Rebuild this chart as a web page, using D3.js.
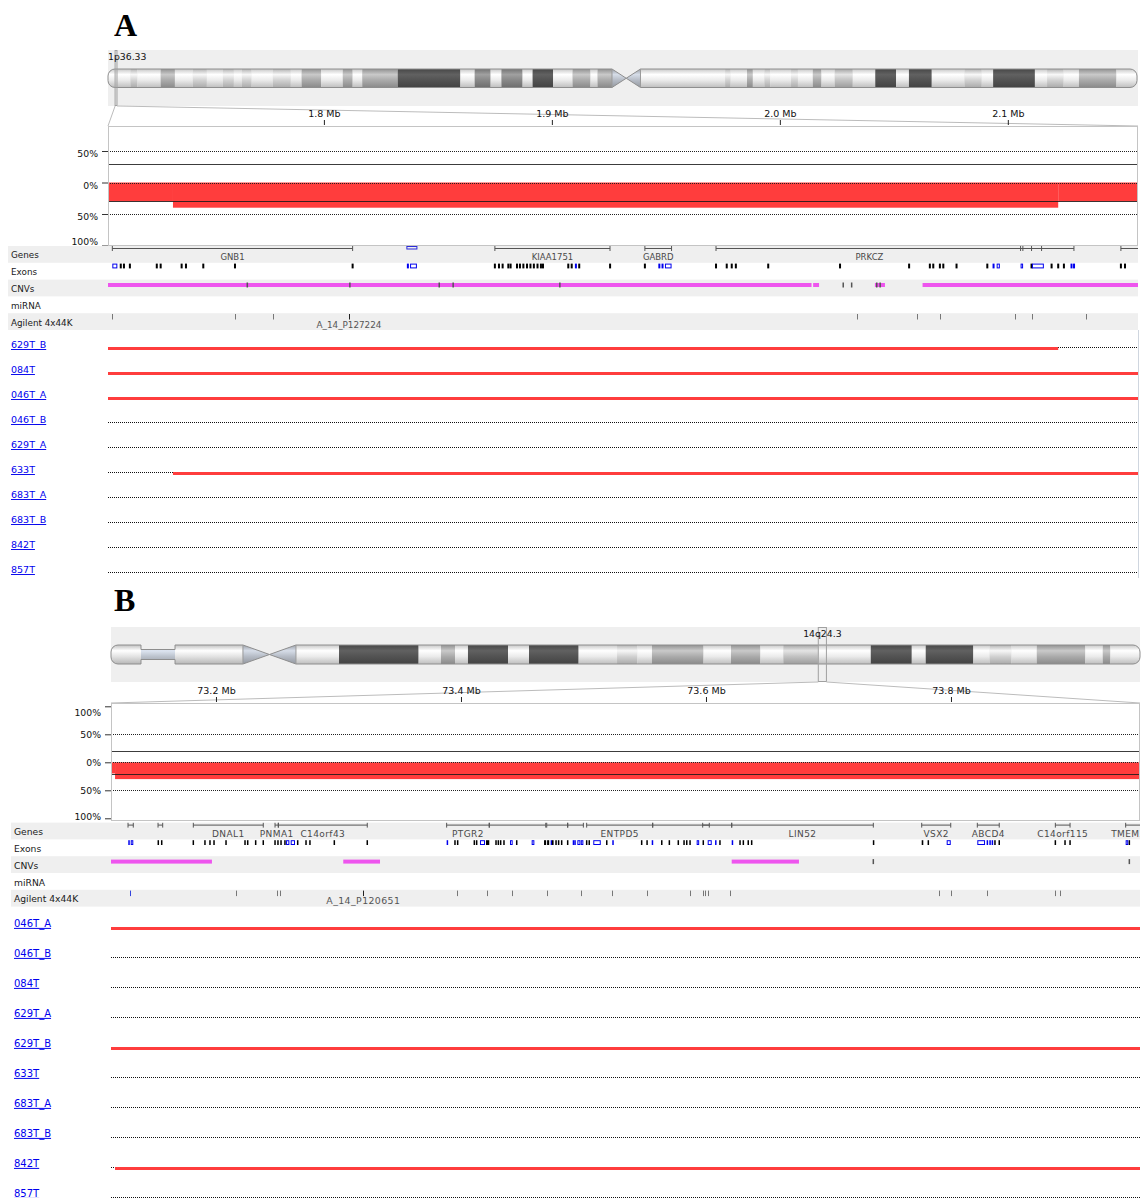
<!DOCTYPE html>
<html>
<head>
<meta charset="utf-8">
<title>Copy-number losses at 1p36.33 and 14q24.3</title>
<script src="https://cdn.jsdelivr.net/npm/d3@7/dist/d3.min.js"></script>
<style>
  html, body { margin: 0; padding: 0; background: #fff; }
  svg { display: block; }
  text { font-family: "DejaVu Sans", Verdana, sans-serif; }
  text.panel-letter { font-family: "Liberation Serif", "DejaVu Serif", serif; font-weight: bold; }
</style>
</head>
<body>
<svg id="figure" width="1142" height="1198"></svg>
<script>
// ---------------- shared categories ----------------
const trackNames = ["Genes", "Exons", "CNVs", "miRNA", "Agilent 4x44K"];
const yTickValues = [100, 50, 0, -50, -100];   // percent of samples (gain up, loss down)

// ---------------- Panel A : chr1 p36.33 ----------------
const regionA = [1.7053, 2.1571];               // Mb
const mbTicksA = [1.8, 1.9, 2.0, 2.1];
const chrLengthA = 247.25;
const bandLabelA = "1p36.33";
const centromereA = [121.10, 124.52, 127.95];
const bandsA = [
  [0, 5.38, "gneg"], [5.38, 7.08, "gpos25"], [7.08, 12.65, "gneg"], [12.65, 16.08, "gpos50"],
  [16.08, 20.38, "gneg"], [20.38, 23.76, "gpos25"], [23.76, 27.61, "gneg"], [27.61, 30.25, "gpos25"],
  [30.25, 32.17, "gneg"], [32.17, 34.52, "gpos25"], [34.52, 39.61, "gneg"], [39.61, 43.93, "gpos25"],
  [43.93, 46.52, "gneg"], [46.52, 51.23, "gpos50"], [51.23, 56.41, "gneg"], [56.41, 58.79, "gpos50"],
  [58.79, 61.09, "gneg"], [61.09, 69.61, "gpos50"], [69.61, 84.67, "gpos100"], [84.67, 88.10, "gneg"],
  [88.10, 91.94, "gpos75"], [91.94, 94.53, "gneg"], [94.53, 99.62, "gpos75"], [99.62, 102.02, "gneg"],
  [102.02, 106.96, "gpos100"], [106.96, 111.62, "gneg"], [111.62, 115.94, "gpos50"], [115.94, 117.62, "gneg"],
  [117.62, 121.10, "gpos50"], [121.10, 124.52, "acen"], [124.52, 127.95, "acen"], [127.95, 148.28, "gneg"],
  [148.28, 149.62, "gpos25"], [149.62, 153.54, "gneg"], [153.54, 154.95, "gpos50"], [154.95, 157.71, "gneg"],
  [157.71, 159.10, "gpos25"], [159.10, 164.12, "gneg"], [164.12, 165.78, "gpos25"], [165.78, 169.35, "gneg"],
  [169.35, 171.44, "gpos50"], [171.44, 174.61, "gneg"], [174.61, 178.96, "gpos33"], [178.96, 184.36, "gneg"],
  [184.36, 189.37, "gpos100"], [189.37, 192.45, "gneg"], [192.45, 197.94, "gpos100"], [197.94, 205.79, "gneg"],
  [205.79, 209.95, "gpos25"], [209.95, 212.68, "gneg"], [212.68, 222.72, "gpos100"], [222.72, 225.64, "gneg"],
  [225.64, 229.63, "gpos25"], [229.63, 233.30, "gneg"], [233.30, 242.31, "gpos50"], [242.31, 247.25, "gneg"]
];
const genesA = [
  { name: "GNB1", start: 1.7072, end: 1.8126 },
  { name: "KIAA1751", start: 1.8750, end: 1.9255 },
  { name: "GABRD", start: 1.9408, end: 1.9525 },
  { name: "PRKCZ", start: 1.9720, end: 2.1066 },
  { name: "", start: 2.1056, end: 2.1290 },
  { name: "", start: 2.1104, end: 2.1148 },
  { name: "", start: 2.1496, end: 2.2000 }
];
const rnaGenesA = [[1.8364, 1.8408]];
const exonTicksA = [1.7109, 1.7123, 1.7149, 1.7267, 1.7284, 1.7376, 1.7395, 1.7471, 1.7610, 1.8126,
  1.8750, 1.8768, 1.8784, 1.8809, 1.8819, 1.8847, 1.8860, 1.8875, 1.8891, 1.8906, 1.8921, 1.8937,
  1.8952, 1.8961, 1.9072, 1.9087, 1.9120, 1.9408, 1.9720, 1.9767, 1.9789, 1.9807, 1.9949, 2.0264,
  2.0567, 2.0658, 2.0673, 2.0702, 2.0717, 2.0775, 2.0910, 2.1104, 2.1192, 2.1221, 2.1246, 2.1496, 2.1514];
const exonBoxesA = [
  [1.7072, 1.7094, "o"], [1.8364, 1.8370, "u"], [1.8378, 1.8408, "o"], [1.9101, 1.9106, "u"],
  [1.9251, 1.9257, "c"], [1.9467, 1.9470, "u"], [1.9481, 1.9484, "u"], [1.9496, 1.9525, "o"],
  [2.0933, 2.0938, "u"], [2.0951, 2.0965, "o"], [2.1056, 2.1063, "o"], [2.1106, 2.1158, "o"],
  [2.1275, 2.1279, "u"], [2.1286, 2.1290, "u"]
];
const cnvsA = [[1.7053, 2.0139], [2.0146, 2.0172], [2.0417, 2.0461], [2.0626, 2.1571]];
const cnvMarksA = [1.7664, 1.8114, 1.8506, 1.8567, 1.9035, 2.0278, 2.0315, 2.0425, 2.0440];
const probesA = [1.7072, 1.7610, 1.7775, 1.8110, 2.0337, 2.0603, 2.0702, 2.1032, 2.1107, 2.1341];
const probeLabelA = { name: "A_14_P127224", pos: 1.8110 };
const samplesA = ["629T_B", "084T", "046T_A", "046T_B", "629T_A", "633T", "683T_A", "683T_B", "842T", "857T"];
const lossesA = [
  { sample: "629T_B", start: 1.7053, end: 2.1221 },
  { sample: "084T", start: 1.7053, end: 2.1571 },
  { sample: "046T_A", start: 1.7053, end: 2.1571 },
  { sample: "633T", start: 1.7338, end: 2.1571 }
];
const thresholdA = 30;

// ---------------- Panel B : chr14 q24.3 ----------------
const regionB = [73.1143, 73.9543];
const mbTicksB = [73.2, 73.4, 73.6, 73.8];
const chrLengthB = 106.37;
const bandLabelB = "14q24.3";
const centromereB = [13.64, 16.38, 19.12];
const stalkB = [3.10, 6.62];
const bandsB = [
  [0, 3.10, "gvar"], [3.10, 6.62, "stalk"], [6.62, 13.64, "gvar"], [13.64, 16.38, "acen"],
  [16.38, 19.12, "acen"], [19.12, 23.57, "gneg"], [23.57, 31.80, "gpos100"], [31.80, 34.11, "gneg"],
  [34.11, 35.56, "gpos50"], [35.56, 36.90, "gneg"], [36.90, 41.04, "gpos100"], [41.04, 43.21, "gneg"],
  [43.21, 48.34, "gpos100"], [48.34, 52.31, "gneg"], [52.31, 54.42, "gpos25"], [54.42, 55.92, "gneg"],
  [55.92, 61.25, "gpos50"], [61.25, 64.09, "gneg"], [64.09, 67.13, "gpos50"], [67.13, 69.50, "gneg"],
  [69.50, 73.08, "gpos33"], [73.08, 78.54, "gneg"], [78.54, 82.78, "gpos100"], [82.78, 84.22, "gneg"],
  [84.22, 89.14, "gpos100"], [89.14, 90.82, "gneg"], [90.82, 93.09, "gpos25"], [93.09, 95.70, "gneg"],
  [95.70, 100.72, "gpos50"], [100.72, 102.52, "gneg"], [102.52, 103.31, "gpos50"], [103.31, 106.37, "gneg"]
];
const genesB = [
  { name: "", start: 73.1282, end: 73.1325 },
  { name: "", start: 73.1527, end: 73.1565 },
  { name: "DNAL1", start: 73.1815, end: 73.2386 },
  { name: "PNMA1", start: 73.2482, end: 73.2509 },
  { name: "C14orf43", start: 73.2509, end: 73.3235 },
  { name: "PTGR2", start: 73.3883, end: 73.4231 },
  { name: "", start: 73.4231, end: 73.4692 },
  { name: "", start: 73.4700, end: 73.4871 },
  { name: "", start: 73.4871, end: 73.4999 },
  { name: "ENTPD5", start: 73.5026, end: 73.5565 },
  { name: "", start: 73.5565, end: 73.6027 },
  { name: "", start: 73.5973, end: 73.6210 },
  { name: "LIN52", start: 73.6210, end: 73.7366 },
  { name: "VSX2", start: 73.7761, end: 73.7998 },
  { name: "ABCD4", start: 73.8215, end: 73.8394 },
  { name: "C14orf115", start: 73.8852, end: 73.8972 },
  { name: "TMEM229B", start: 73.9426, end: 73.9625 }
];
const rnaGenesB = [];
const exonTicksB = [73.1529, 73.1557, 73.1815, 73.1910, 73.1951, 73.1984, 73.2082, 73.2237, 73.2259,
  73.2324, 73.2386, 73.2482, 73.2506, 73.2531, 73.2563, 73.2667, 73.2735, 73.2767, 73.2966, 73.3235,
  73.3951, 73.3973, 73.4109, 73.4128, 73.4286, 73.4305, 73.4324, 73.4351, 73.4455, 73.4776, 73.4797,
  73.4822, 73.4871, 73.5026, 73.5047, 73.5190, 73.5475, 73.5639, 73.5701, 73.5774, 73.5821, 73.5843,
  73.5870, 73.5978, 73.6114, 73.6278, 73.6305, 73.6345, 73.6373, 73.7815, 73.8359, 73.8394, 73.8852,
  73.8931, 73.8972, 73.9456];
const exonBoxesB = [
  [73.1284, 73.1286, "u"], [73.1304, 73.1325, "o"], [73.2572, 73.2599, "o"], [73.2610, 73.2645, "o"],
  [73.3883, 73.3891, "u"], [73.4155, 73.4196, "o"], [73.4204, 73.4231, "c"], [73.4400, 73.4422, "o"],
  [73.4577, 73.4599, "o"], [73.4678, 73.4695, "c"], [73.4703, 73.4720, "c"], [73.4732, 73.4737, "u"],
  [73.4742, 73.4756, "c"], [73.4912, 73.4915, "u"], [73.4925, 73.4928, "u"], [73.4950, 73.4975, "o"],
  [73.4978, 73.4999, "o"], [73.5080, 73.5141, "o"], [73.5235, 73.5238, "u"], [73.5513, 73.5520, "c"],
  [73.5557, 73.5560, "u"], [73.5924, 73.5943, "o"], [73.6014, 73.6047, "o"], [73.6074, 73.6077, "u"],
  [73.6210, 73.6213, "u"], [73.7362, 73.7370, "c"], [73.7761, 73.7774, "c"], [73.7965, 73.7998, "o"],
  [73.8215, 73.8278, "o"], [73.8291, 73.8297, "u"], [73.8313, 73.8316, "u"], [73.8332, 73.8335, "u"],
  [73.9426, 73.9447, "o"]
];
const cnvsB = [[73.1143, 73.1967], [73.3039, 73.3339], [73.6210, 73.6759]];
const cnvMarksB = [73.7366, 73.9456];
const probesB = [73.1298, 73.2163, 73.2501, 73.2523, 73.3203, 73.3970, 73.4215, 73.4414, 73.4705,
  73.4982, 73.5233, 73.5521, 73.5870, 73.5973, 73.5992, 73.6019, 73.6196, 73.7900, 73.7998, 73.8296,
  73.8852, 73.8890];
const probeLabelB = { name: "A_14_P120651", pos: 73.3203 };
const samplesB = ["046T_A", "046T_B", "084T", "629T_A", "629T_B", "633T", "683T_A", "683T_B", "842T", "857T"];
const lossesB = [
  { sample: "046T_A", start: 73.1143, end: 73.9543 },
  { sample: "629T_B", start: 73.1143, end: 73.9543 },
  { sample: "842T", start: 73.1176, end: 73.9543 }
];
const thresholdB = 20;

// ---------------- drawing ----------------
const LOSS_RED = "#ff3d3d";
const CNV_PINK = "#ee55ee";
const svg = d3.select("#figure");
const defs = svg.append("defs");

const stainFill = {
  gneg: "#ebebeb", gvar: "#e3e3e3", gpos25: "#d2d2d2", gpos33: "#c2c2c2",
  gpos50: "#ababab", gpos75: "#888888", gpos100: "#535353",
  acen: "#b6bcc6", stalk: "#bcc3cd"
};

function stainGradient(stain) {
  const id = "band-" + stain;
  if (defs.select("#" + id).empty()) {
    const c = d3.color(stainFill[stain]);
    const lg = defs.append("linearGradient").attr("id", id)
      .attr("x1", 0).attr("y1", 0).attr("x2", 0).attr("y2", 1);
    [[0, c.darker(0.45)], [0.3, c.brighter(0.45)], [0.6, c], [1, c.darker(0.6)]]
      .forEach(([o, col]) => lg.append("stop").attr("offset", o).attr("stop-color", col.formatHex()));
  }
  return `url(#${id})`;
}

function ideogramPath(xi, p, y0, y1, r) {
  const ym = (y0 + y1) / 2;
  const X0 = xi(0), X1 = xi(p.chrLength);
  const [cs, cm, ce] = p.centromere.map(xi);
  let d = `M${X0 + r},${y0}`;
  if (p.stalk) {
    const s0 = xi(p.stalk[0]), s1 = xi(p.stalk[1]);
    d += `H${s0}V${ym - p.stalkHalf}H${s1}V${y0}`;
  }
  d += `H${cs}L${cm},${ym}L${ce},${y0}H${X1 - r}A${r},${r} 0 0 1 ${X1},${y0 + r}V${y1 - r}` +
       `A${r},${r} 0 0 1 ${X1 - r},${y1}H${ce}L${cm},${ym}L${cs},${y1}`;
  if (p.stalk) {
    const s0 = xi(p.stalk[0]), s1 = xi(p.stalk[1]);
    d += `H${s1}V${ym + p.stalkHalf}H${s0}V${y1}`;
  }
  d += `H${X0 + r}A${r},${r} 0 0 1 ${X0},${y1 - r}V${y0 + r}A${r},${r} 0 0 1 ${X0 + r},${y0}Z`;
  return d;
}

function lossFrequency(losses, n, region) {
  const clamp = v => Math.max(region[0], Math.min(region[1], v));
  const pts = Array.from(new Set([region[0], region[1], ...losses.flatMap(d => [clamp(d.start), clamp(d.end)])]))
    .sort((a, b) => a - b);
  const segs = [];
  for (let i = 0; i < pts.length - 1; i++) {
    const mid = (pts[i] + pts[i + 1]) / 2;
    const k = losses.filter(d => d.start <= mid && d.end >= mid).length;
    segs.push({ start: pts[i], end: pts[i + 1], pct: 100 * k / n });
  }
  return segs;
}

function drawPanel(p, L) {
  const g = svg.append("g");
  const x = d3.scaleLinear().domain(p.region).range([L.x0, L.x1]);
  const xi = d3.scaleLinear().domain([0, p.chrLength]).range(L.ideoX);
  const y = d3.scaleLinear().domain([-100, 100]).range(L.yRange);
  const [fTop, fBot] = L.frame;

  // panel letter
  g.append("text").attr("class", "panel-letter").attr("x", L.letterX).attr("y", L.letterY)
    .attr("font-size", 32).attr("fill", "#000").text(p.letter);

  // ---- ideogram strip ----
  g.append("rect").attr("x", L.x0).attr("y", L.strip[0])
    .attr("width", L.x1 - L.x0).attr("height", L.strip[1] - L.strip[0]).attr("fill", "#efefef");
  const [iy0, iy1] = L.ideo;
  const outline = ideogramPath(xi, p, iy0, iy1, 7);
  const clipId = "ideo-clip-" + p.letter;
  defs.append("clipPath").attr("id", clipId).append("path").attr("d", outline);
  g.append("g").attr("clip-path", `url(#${clipId})`)
    .selectAll("rect").data(p.bands).join("rect")
    .attr("x", d => xi(d[0])).attr("y", iy0)
    .attr("width", d => xi(d[1]) - xi(d[0])).attr("height", iy1 - iy0)
    .attr("fill", d => stainGradient(d[2]));
  g.append("path").attr("d", outline).attr("fill", "none").attr("stroke", "#8e8e8e").attr("stroke-width", 1);
  [p.centromere[0], p.centromere[2]].forEach(v => {
    g.append("line").attr("x1", xi(v)).attr("x2", xi(v)).attr("y1", iy0).attr("y2", iy1)
      .attr("stroke", "#9a9a9a");
  });

  // region marker on the ideogram
  const m0 = xi(p.region[0]), m1 = xi(p.region[1]);
  g.append("rect").attr("x", m0).attr("y", L.strip[0] + 0.5)
    .attr("width", Math.max(m1 - m0, 1.5)).attr("height", L.strip[1] - L.strip[0] - 1)
    .attr("fill", "none").attr("stroke", "#a0a0a0").attr("stroke-width", 1);
  const bl = g.append("text").attr("y", L.strip[0] + 7).attr("dy", "0.35em")
    .attr("font-size", 9.3).attr("fill", "#111").attr("text-anchor", "middle").text(p.bandLabel);
  const blw = bl.node().getComputedTextLength();
  bl.attr("x", Math.max((m0 + m1) / 2, L.x0 + blw / 2));

  // zoom lines from the marker to the detail frame
  g.append("line").attr("x1", m0).attr("y1", L.strip[1]).attr("x2", L.x0).attr("y2", fTop)
    .attr("stroke", "#bcbcbc");
  g.append("line").attr("x1", m1).attr("y1", L.strip[1]).attr("x2", L.x1).attr("y2", fTop)
    .attr("stroke", "#bcbcbc");

  // ---- frequency frame ----
  g.append("rect").attr("x", L.x0 + 0.5).attr("y", fTop + 0.5)
    .attr("width", L.x1 - L.x0 - 1).attr("height", fBot - fTop - 1)
    .attr("fill", "#fff").attr("stroke", "#c4c4c4");
  const plotClip = "plot-clip-" + p.letter;
  defs.append("clipPath").attr("id", plotClip).append("rect")
    .attr("x", L.x0 + 1).attr("y", fTop + 1).attr("width", L.x1 - L.x0 - 2).attr("height", fBot - fTop - 2);
  const plot = g.append("g").attr("clip-path", `url(#${plotClip})`);

  const freq = lossFrequency(p.losses, p.samples.length, p.region);
  plot.selectAll("rect.loss").data(freq.filter(d => d.pct > 0)).join("rect").attr("class", "loss")
    .attr("x", d => x(d.start)).attr("width", d => x(d.end) - x(d.start))
    .attr("y", y(0)).attr("height", d => y(-d.pct) - y(0)).attr("fill", LOSS_RED);

  plot.selectAll("line.grid").data([50, 0, -50]).join("line").attr("class", "grid")
    .attr("x1", L.x0).attr("x2", L.x1)
    .attr("y1", d => Math.round(y(d)) + 0.5).attr("y2", d => Math.round(y(d)) + 0.5)
    .attr("stroke", "#222").attr("stroke-dasharray", "1,1");
  plot.selectAll("line.thr").data([p.threshold, -p.threshold]).join("line").attr("class", "thr")
    .attr("x1", L.x0).attr("x2", L.x1)
    .attr("y1", d => Math.round(y(d)) + 0.5).attr("y2", d => Math.round(y(d)) + 0.5)
    .attr("stroke", "#1a1a1a").attr("stroke-opacity", 0.85);

  // Mb axis
  const ax = d3.axisTop(x).tickValues(p.mbTicks).tickSize(5).tickPadding(3)
    .tickFormat(d => d3.format(".1f")(d) + " Mb");
  const axG = g.append("g").attr("transform", `translate(0,${fTop - 1})`).call(ax)
    .attr("font-size", 9.5);
  axG.select(".domain").remove();
  axG.selectAll(".tick line").attr("stroke", "#222");
  axG.selectAll(".tick text").attr("fill", "#111");

  // percent axis
  const yAx = d3.axisLeft(y)
    .tickValues(yTickValues.filter(v => y(v) >= fTop - 0.5 && y(v) <= fBot + 1))
    .tickSize(6).tickPadding(4).tickFormat(d => Math.abs(d) + "%");
  const yG = g.append("g").attr("transform", `translate(${L.x0},0)`).call(yAx)
    .attr("font-size", 9.3);
  yG.select(".domain").remove();
  yG.selectAll(".tick line").attr("stroke", "#333");
  yG.selectAll(".tick text").attr("fill", "#111").attr("y", d => {
    const ty = y(d);
    const cy = Math.min(Math.max(ty + L.yLabelShift, fTop + 10), fBot - 4.5);
    return cy - ty;
  });

  // ---- annotation tracks ----
  const rowTop = i => L.trackTop + i * L.rowH;
  trackNames.forEach((name, i) => {
    if (i % 2 === 0) {
      g.append("rect").attr("x", L.bandX0).attr("y", rowTop(i))
        .attr("width", L.x1 - L.bandX0).attr("height", L.rowH).attr("fill", "#efefef");
    }
    g.append("text").attr("x", L.labelX).attr("y", rowTop(i) + 9.3).attr("dy", "0.35em")
      .attr("font-size", L.trackFont).attr("fill", "#1a1a1a").text(name);
  });
  const trkClip = "track-clip-" + p.letter;
  defs.append("clipPath").attr("id", trkClip).append("rect")
    .attr("x", L.x0).attr("y", L.trackTop).attr("width", L.x1 - L.x0).attr("height", L.rowH * 5);
  const trk = g.append("g").attr("clip-path", `url(#${trkClip})`);

  // genes
  const gTop = rowTop(0);
  const gy = gTop + 2.5;
  p.genes.forEach(d => {
    const a = x(d.start), b = x(d.end);
    trk.append("line").attr("x1", a).attr("x2", b).attr("y1", gy).attr("y2", gy)
      .attr("stroke", "#555").attr("stroke-width", 1);
    [a, b].forEach(c => trk.append("line").attr("x1", c).attr("x2", c)
      .attr("y1", gTop).attr("y2", gTop + 5).attr("stroke", "#555"));
    if (d.name) {
      trk.append("text").attr("x", (a + b) / 2).attr("y", gTop + 11).attr("dy", "0.35em")
        .attr("text-anchor", "middle").attr("font-size", L.geneFont)
        .attr("letter-spacing", L.geneSpacing).attr("fill", "#4a4a4a").text(d.name);
    }
  });
  p.rnaGenes.forEach(d => {
    trk.append("rect").attr("x", x(d[0])).attr("y", gTop + 0.5)
      .attr("width", x(d[1]) - x(d[0])).attr("height", 2.5)
      .attr("fill", "none").attr("stroke", "#2b2bd9").attr("stroke-width", 1);
  });

  // exons
  const eTop = rowTop(1) + 0.8, eH = 4.8;
  trk.selectAll("rect.exon").data(p.exonTicks).join("rect").attr("class", "exon")
    .attr("x", d => x(d) - L.tickW / 2).attr("y", eTop).attr("width", L.tickW).attr("height", eH)
    .attr("fill", "#000");
  p.exonBoxes.forEach(([s, e, k]) => {
    const w = Math.max(x(e) - x(s), L.tickW);
    if (k === "o") {
      trk.append("rect").attr("x", x(s) + 0.5).attr("y", eTop + 0.5)
        .attr("width", Math.max(w - 1, 1.5)).attr("height", eH - 1)
        .attr("fill", "none").attr("stroke", "#0000ee").attr("stroke-width", 1);
    } else {
      trk.append("rect").attr("x", x(s)).attr("y", eTop).attr("width", w).attr("height", eH)
        .attr("fill", k === "u" ? "#0000ee" : "#000");
    }
  });

  // CNVs
  const cTop = rowTop(2) + 3.4;
  trk.selectAll("rect.cnv").data(p.cnvs).join("rect").attr("class", "cnv")
    .attr("x", d => x(d[0])).attr("width", d => Math.max(x(d[1]) - x(d[0]), 1.5))
    .attr("y", cTop).attr("height", 4).attr("fill", CNV_PINK);
  trk.selectAll("rect.cnvmark").data(p.cnvMarks).join("rect").attr("class", "cnvmark")
    .attr("x", d => x(d) - 0.75).attr("width", 1.5).attr("y", cTop - 0.5).attr("height", 5)
    .attr("fill", "#555");

  // array probes
  const pTop = rowTop(4) + 0.8;
  trk.selectAll("line.probe").data(p.probes).join("line").attr("class", "probe")
    .attr("x1", d => Math.round(x(d)) + 0.5).attr("x2", d => Math.round(x(d)) + 0.5)
    .attr("y1", pTop).attr("y2", pTop + 5.5)
    .attr("stroke", (d, i) => d === p.probeLabel.pos ? "#222" : (i === 0 && p.letter === "B" ? "#3344dd" : "#777"))
    .attr("stroke-width", 1);
  trk.append("text").attr("x", x(p.probeLabel.pos)).attr("y", rowTop(4) + 11.3).attr("dy", "0.35em")
    .attr("text-anchor", "middle").attr("font-size", L.probeFont).attr("letter-spacing", L.geneSpacing)
    .attr("fill", "#555").text(p.probeLabel.name);

  // ---- per-sample rows ----
  p.samples.forEach((s, i) => {
    const ly = L.sampleTop + i * L.sampleStep;
    g.append("text").attr("x", L.labelX).attr("y", ly + L.sampleLabelDy).attr("dy", "0.35em")
      .attr("font-size", L.sampleFont).attr("fill", "#0000ee")
      .style("text-decoration", "underline").text(s);
    g.append("line").attr("x1", L.x0).attr("x2", L.x1)
      .attr("y1", Math.round(ly) + 0.5).attr("y2", Math.round(ly) + 0.5)
      .attr("stroke", "#111").attr("stroke-dasharray", "1,1");
    p.losses.filter(d => d.sample === s).forEach(d => {
      const a = x(Math.max(d.start, p.region[0])), b = x(Math.min(d.end, p.region[1]));
      g.append("rect").attr("x", a).attr("width", b - a)
        .attr("y", Math.round(ly)).attr("height", 3).attr("fill", LOSS_RED);
    });
  });
  if (L.sampleBorder) {
    g.append("line").attr("x1", L.x1 + 0.5).attr("x2", L.x1 + 0.5)
      .attr("y1", rowTop(5)).attr("y2", L.sampleBorder)
      .attr("stroke", "#cfd6df");
  }
}

drawPanel({
  letter: "A", region: regionA, mbTicks: mbTicksA, chrLength: chrLengthA, bandLabel: bandLabelA,
  centromere: centromereA, bands: bandsA, genes: genesA, rnaGenes: rnaGenesA,
  exonTicks: exonTicksA, exonBoxes: exonBoxesA, cnvs: cnvsA, cnvMarks: cnvMarksA,
  probes: probesA, probeLabel: probeLabelA, samples: samplesA, losses: lossesA, threshold: thresholdA
}, {
  letterX: 114, letterY: 36, x0: 108, x1: 1138,
  strip: [50, 106], ideo: [69, 87.5], ideoX: [108, 1137],
  frame: [126, 246], yRange: [245.5, 119.5], yLabelShift: 3,
  trackTop: 246, rowH: 16.8, bandX0: 8, labelX: 11,
  trackFont: 8.8, geneFont: 8.5, geneSpacing: 0, probeFont: 8.8, tickW: 2,
  sampleTop: 347, sampleStep: 25, sampleLabelDy: -2.3, sampleFont: 9.5, sampleBorder: 578
});

drawPanel({
  letter: "B", region: regionB, mbTicks: mbTicksB, chrLength: chrLengthB, bandLabel: bandLabelB,
  centromere: centromereB, stalk: stalkB, stalkHalf: 5, bands: bandsB, genes: genesB, rnaGenes: rnaGenesB,
  exonTicks: exonTicksB, exonBoxes: exonBoxesB, cnvs: cnvsB, cnvMarks: cnvMarksB,
  probes: probesB, probeLabel: probeLabelB, samples: samplesB, losses: lossesB, threshold: thresholdB
}, {
  letterX: 114, letterY: 611, x0: 111, x1: 1140,
  strip: [627, 682], ideo: [645, 664], ideoX: [111, 1140],
  frame: [703, 821], yRange: [818.3, 706.3], yLabelShift: 0,
  trackTop: 822.6, rowH: 16.8, bandX0: 11, labelX: 14,
  trackFont: 9.2, geneFont: 9, geneSpacing: 0.4, probeFont: 9.4, tickW: 1.5,
  sampleTop: 927, sampleStep: 30, sampleLabelDy: -3.6, sampleFont: 10, sampleBorder: null
});
</script>
</body>
</html>
